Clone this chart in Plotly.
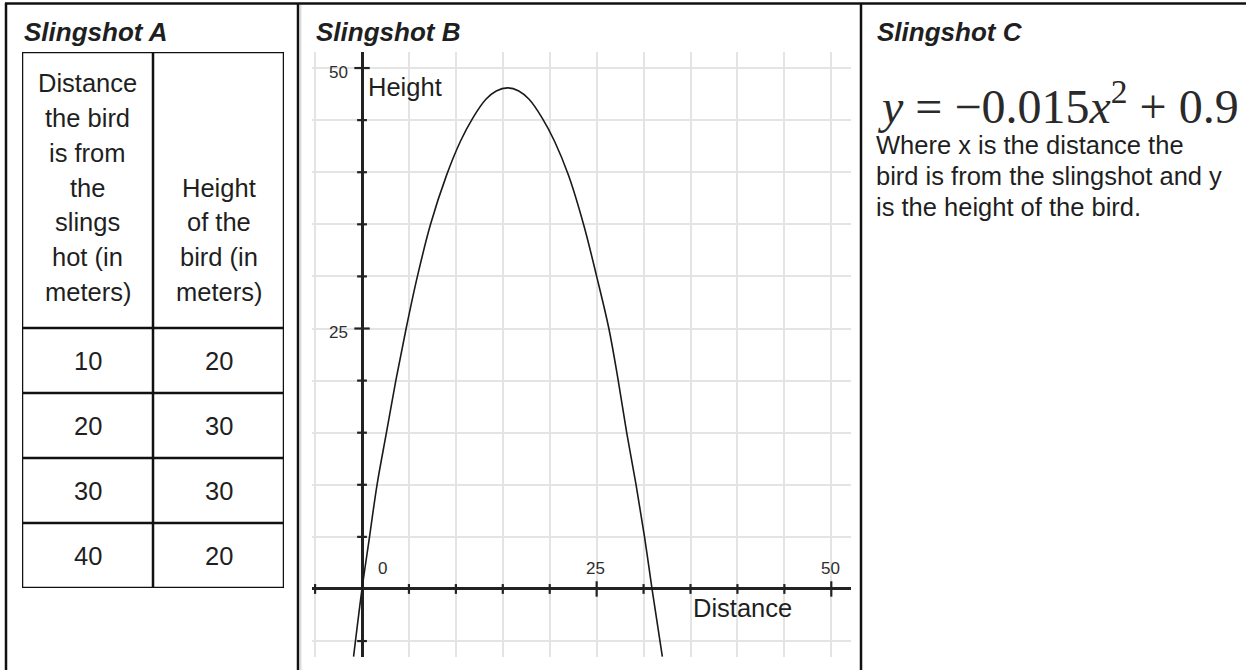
import plotly.graph_objects as go

W, H = 1246, 670

# ---------------- data ----------------
# Slingshot A (table)
header_col1 = ["Distance", "the bird", "is from", "the", "slings", "hot (in", "meters)"]
header_col2 = ["Height", "of the", "bird (in", "meters)"]
distances = [10, 20, 30, 40]
heights = [20, 30, 30, 20]

# Slingshot B (curve points)
curve_x = [-0.9, 0.0, 0.8, 1.6, 2.6, 3.6, 4.7, 5.9, 7.3, 9.0, 10.5, 11.8, 13.2, 14.3, 15.5,
           16.7, 17.8, 19.2, 20.5, 22.0, 23.6, 25.0, 26.3, 27.3, 28.2, 29.2, 30.1, 30.9, 32.0]
curve_y = [-6.5, 0.0, 5.0, 10.0, 15.0, 20.0, 25.0, 30.0, 35.0, 39.7, 43.0, 45.2, 47.0, 47.8, 48.1,
           47.8, 47.0, 45.2, 43.0, 39.7, 35.0, 30.0, 25.0, 20.0, 15.0, 10.0, 5.0, 0.0, -6.5]
x_minor_ticks = [-5, 5, 10, 15, 20, 30, 35, 40, 45]
x_major_ticks = [25, 50]
y_minor_ticks = [-5, 5, 10, 15, 20, 30, 35, 40, 45]
y_major_ticks = [25, 50]
x_tick_labels = [0, 25, 50]
y_tick_labels = [25, 50]

# Slingshot C
titles = ["Slingshot A", "Slingshot B", "Slingshot C"]
equation = "<i>y</i> = −0.015<i>x</i><sup>2</sup> + 0.9"
desc_lines = ["Where x is the distance the",
              "bird is from the slingshot and y",
              "is the height of the bird."]

# ---------------- helpers ----------------
def px(x):
    return x / W

def py(y):
    return 1 - y / H

SANS = "Liberation Sans, Arial, sans-serif"
TXT = "#1f1f1f"
INK = "#111111"

fig = go.Figure()

# ---- Slingshot B chart ----
fig.add_trace(go.Scatter(x=curve_x, y=curve_y, mode="lines",
                         line=dict(color="#1a1a1a", width=1.6, shape="spline", smoothing=1.0),
                         hoverinfo="skip"))
tick_line = dict(width=2.2, color="#222222")
fig.add_trace(go.Scatter(x=x_minor_ticks, y=[0] * len(x_minor_ticks), mode="markers",
                         marker=dict(symbol="line-ns", size=7, line=tick_line), hoverinfo="skip"))
fig.add_trace(go.Scatter(x=x_major_ticks, y=[0] * len(x_major_ticks), mode="markers",
                         marker=dict(symbol="line-ns", size=11, line=tick_line), hoverinfo="skip"))
fig.add_trace(go.Scatter(x=[0] * len(y_minor_ticks), y=y_minor_ticks, mode="markers",
                         marker=dict(symbol="line-ew", size=7, line=tick_line), hoverinfo="skip"))
fig.add_trace(go.Scatter(x=[0] * len(y_major_ticks), y=y_major_ticks, mode="markers",
                         marker=dict(symbol="line-ew", size=11, line=tick_line), hoverinfo="skip"))

annotations = []
for v in y_tick_labels:
    annotations.append(dict(x=0, y=v, xref="x", yref="y", text=str(v), showarrow=False,
                            xanchor="right", yanchor="middle", xshift=-12, yshift=-4,
                            font=dict(family=SANS, size=17, color="#2e2e2e")))
for v in x_tick_labels:
    annotations.append(dict(x=v, y=0, xref="x", yref="y", text=str(v), showarrow=False,
                            xanchor="center", yanchor="middle", xshift=(20 if v == 0 else -1),
                            yshift=20, font=dict(family=SANS, size=17, color="#2e2e2e")))
annotations.append(dict(x=0, y=48.2, xref="x", yref="y", text="Height", showarrow=False,
                        xanchor="left", yanchor="middle", xshift=4,
                        font=dict(family=SANS, size=25.5, color=TXT)))
annotations.append(dict(x=40.5, y=-1.8, xref="x", yref="y", text="Distance", showarrow=False,
                        xanchor="center", yanchor="middle",
                        font=dict(family=SANS, size=25.5, color=TXT)))

# ---- Slingshot A table (own hidden axes) ----
header_rows = 4.246
line_gap = 0.535
last_line = header_rows - 0.554
for i, t in enumerate(header_col1):
    yy = last_line - (len(header_col1) - 1 - i) * line_gap
    annotations.append(dict(x=0.5, y=yy, xref="x2", yref="y2", text=t, showarrow=False,
                            xanchor="center", yanchor="middle",
                            font=dict(family=SANS, size=25.5, color=TXT)))
for i, t in enumerate(header_col2):
    yy = last_line - (len(header_col2) - 1 - i) * line_gap
    annotations.append(dict(x=1.5, y=yy, xref="x2", yref="y2", text=t, showarrow=False,
                            xanchor="center", yanchor="middle",
                            font=dict(family=SANS, size=25.5, color=TXT)))
for i, (d, h) in enumerate(zip(distances, heights)):
    yy = header_rows + i + 0.5
    annotations.append(dict(x=0.5, y=yy, xref="x2", yref="y2", text=str(d), showarrow=False,
                            xanchor="center", yanchor="middle",
                            font=dict(family=SANS, size=25.5, color=TXT)))
    annotations.append(dict(x=1.5, y=yy, xref="x2", yref="y2", text=str(h), showarrow=False,
                            xanchor="center", yanchor="middle",
                            font=dict(family=SANS, size=25.5, color=TXT)))

# ---- titles ----
for t, xpx in zip(titles, [22, 314, 875]):
    annotations.append(dict(x=px(xpx), y=py(32), xref="paper", yref="paper",
                            text="<b><i>" + t + "</i></b>", showarrow=False,
                            xanchor="left", yanchor="middle",
                            font=dict(family=SANS, size=26, color=TXT)))

# ---- Slingshot C text ----
annotations.append(dict(x=px(875), y=py(103), xref="paper", yref="paper", text=equation,
                        showarrow=False, xanchor="left", yanchor="middle",
                        font=dict(family="Liberation Serif, Times New Roman, serif", size=48,
                                  color="#2a2a2a")))
for i, t in enumerate(desc_lines):
    annotations.append(dict(x=px(874), y=py(145 + 31 * i), xref="paper", yref="paper", text=t,
                            showarrow=False, xanchor="left", yanchor="middle",
                            font=dict(family=SANS, size=25.5, color=TXT)))

# ---------------- shapes ----------------
shapes = []
frame = dict(color=INK, width=2.5)
shapes.append(dict(type="line", xref="paper", yref="paper", x0=px(5), x1=px(1246),
                   y0=py(3.5), y1=py(3.5), line=frame))
for xv in [6, 298, 861]:
    shapes.append(dict(type="line", xref="paper", yref="paper", x0=px(xv), x1=px(xv),
                       y0=py(3), y1=py(670), line=frame))
shapes.append(dict(type="line", xref="paper", yref="paper", x0=px(300.8), x1=px(300.8),
                   y0=py(5), y1=py(670), line=dict(color="#d4d4d4", width=1.2)))
# table grid
cell_line = dict(color=INK, width=2.5)
total_rows = header_rows + len(distances)
shapes.append(dict(type="rect", xref="x2", yref="y2", x0=0, x1=2, y0=0, y1=total_rows,
                   line=cell_line))
shapes.append(dict(type="line", xref="x2", yref="y2", x0=1, x1=1, y0=0, y1=total_rows,
                   line=cell_line))
for i in range(len(distances)):
    shapes.append(dict(type="line", xref="x2", yref="y2", x0=0, x1=2,
                       y0=header_rows + i, y1=header_rows + i, line=cell_line))

fig.update_layout(
    width=W, height=H,
    margin=dict(l=0, r=0, t=0, b=0),
    paper_bgcolor="white", plot_bgcolor="white",
    showlegend=False,
    xaxis=dict(domain=[px(312), px(851)], range=[-5.33, 52.1], dtick=5, tick0=0,
               showgrid=True, gridcolor="#e4e4e4", gridwidth=1.5,
               zeroline=True, zerolinecolor="#222222", zerolinewidth=2.6,
               showticklabels=False, ticks="", showline=False, fixedrange=True),
    yaxis=dict(domain=[py(657), py(52)], range=[-6.53, 51.54], dtick=5, tick0=0,
               showgrid=True, gridcolor="#e4e4e4", gridwidth=1.5,
               zeroline=True, zerolinecolor="#222222", zerolinewidth=2.6,
               showticklabels=False, ticks="", showline=False, fixedrange=True),
    xaxis2=dict(domain=[px(22), px(284)], range=[0, 2], visible=False, anchor="y2",
                fixedrange=True),
    yaxis2=dict(domain=[py(588), py(52)], range=[total_rows, 0], visible=False, anchor="x2",
                fixedrange=True),
    annotations=annotations,
    shapes=shapes,
)

fig.write_html("out.html", config={"displayModeBar": False},
               post_script="document.body.style.margin='0';document.body.style.overflow='hidden';")
